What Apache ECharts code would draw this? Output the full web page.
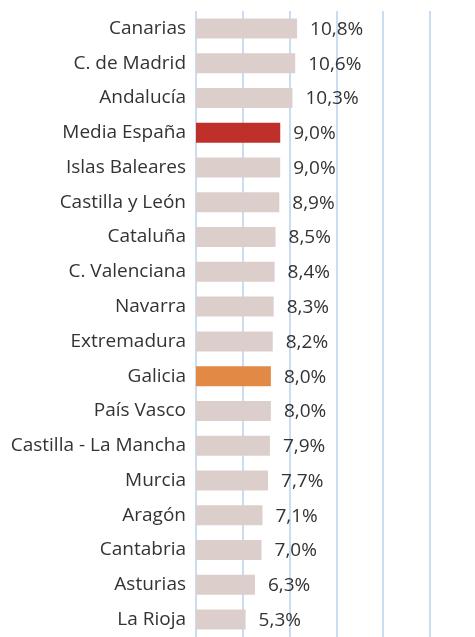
<!DOCTYPE html>
<html>
<head>
<meta charset="utf-8">
<script src="https://cdn.jsdelivr.net/npm/echarts@6/dist/echarts.min.js"></script>
<style>
html,body{margin:0;padding:0;background:#fff;}
#chart{width:475px;height:637px;}
</style>
</head>
<body>
<div id="chart"></div>
<script>
var categories = ["Canarias","C. de Madrid","Andalucía","Media España","Islas Baleares","Castilla y León","Cataluña","C. Valenciana","Navarra","Extremadura","Galicia","País Vasco","Castilla - La Mancha","Murcia","Aragón","Cantabria","Asturias","La Rioja"];
var values = [10.8,10.6,10.3,9.0,9.0,8.9,8.5,8.4,8.3,8.2,8.0,8.0,7.9,7.7,7.1,7.0,6.3,5.3];
var axisTicks = [0,5,10,15,20,25];

var baseColor = '#dccfcb';
var specialColors = {"Media España":'#c0302b', "Galicia":'#e28a45'};

var chart = echarts.init(document.getElementById('chart'));
chart.setOption({
  animation:false,
  grid:{left:196,right:45,top:11,bottom:-7,containLabel:false},
  xAxis:{type:'value',min:axisTicks[0],max:axisTicks[axisTicks.length-1],interval:axisTicks[1]-axisTicks[0],
    axisLabel:{show:false},axisLine:{show:false},axisTick:{show:false},
    splitLine:{show:true,lineStyle:{color:'#cadcf0',width:2}}},
  yAxis:{type:'category',inverse:true,data:categories,
    axisLine:{show:false},axisTick:{show:false},
    axisLabel:{color:'#333',fontSize:19,fontFamily:'Open Sans',margin:10}},
  series:[{type:'bar',barWidth:20,
    data:values.map(function(v,i){return {value:v,itemStyle:{color:specialColors[categories[i]]||baseColor}};}),
    label:{show:true,position:'right',distance:13,offset:[0,1],color:'#333',fontSize:19,fontFamily:'Open Sans',
      formatter:function(p){return p.value.toFixed(1).replace('.',',')+'%';}}
  }]
});
</script>
</body>
</html>
